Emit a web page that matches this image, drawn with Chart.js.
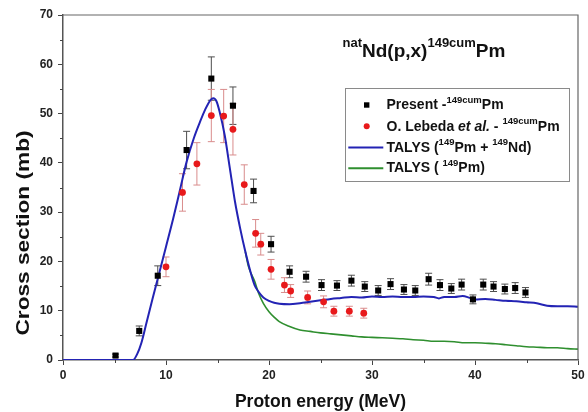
<!DOCTYPE html>
<html><head><meta charset="utf-8">
<script src="https://cdn.jsdelivr.net/npm/chart.js@4.4.1/dist/chart.umd.min.js"></script>
<style>html,body{margin:0;padding:0;background:#fff}#wrap{width:588px;height:412px}</style>
</head><body><div id="wrap"><canvas id="c" width="588" height="412"></canvas></div>
<script>
// ---- data ----
const presentE   = [5.1, 7.4, 9.2, 12.0, 14.4, 16.5, 18.5, 20.2, 22.0, 23.6, 25.1, 26.6, 28.0, 29.3, 30.6, 31.8, 33.1, 34.2, 35.5, 36.6, 37.7, 38.7, 39.8, 40.8, 41.8, 42.9, 43.9, 44.9];
const presentCS  = [0.9, 5.9, 17.1, 42.6, 57.1, 51.6, 34.3, 23.5, 17.9, 16.9, 15.2, 15.1, 16.1, 14.9, 14.1, 15.4, 14.3, 14.1, 16.4, 15.2, 14.5, 15.3, 12.3, 15.3, 14.9, 14.4, 14.6, 13.7];
const presentErr = [0.3, 1.0, 2.0, 3.8, 4.4, 3.8, 2.4, 1.6, 1.2, 1.1, 1.1, 1.0, 1.1, 1.0, 1.0, 1.1, 1.0, 1.0, 1.2, 1.1, 1.0, 1.1, 0.9, 1.1, 1.0, 1.0, 1.1, 1.0];

const lebedaE   = [10.0, 11.6, 13.0, 14.4, 15.6, 16.5, 17.6, 18.7, 19.2, 20.2, 21.5, 22.1, 23.75, 25.3, 26.3, 27.8, 29.2];
const lebedaCS  = [18.9, 34.0, 39.8, 49.6, 49.5, 46.8, 35.6, 25.7, 23.5, 18.4, 15.2, 14.0, 12.7, 11.8, 9.9, 9.9, 9.5];
const lebedaErr = [2.0, 3.8, 4.3, 5.3, 5.4, 5.2, 4.0, 2.8, 2.2, 2.0, 1.5, 1.3, 1.3, 1.2, 1.0, 1.0, 1.0];

const talysTotE  = [0, 6.8, 7.2, 7.6, 8.1, 8.7, 9.25, 10.0, 10.7, 11.3, 12.0, 12.7, 13.3, 13.8, 14.3, 14.6, 14.9, 15.2, 15.7, 16.2, 16.7, 17.2, 17.7, 18.2, 18.6, 19.0, 19.45, 20.0, 20.5, 21.0, 22.0, 23.0, 24.0, 25.0, 26.0, 27.0, 28.0, 29.0, 30.0, 31.0, 32.0, 33.0, 34.0, 35.0, 36.0, 36.5, 37.0, 38.0, 38.8, 39.5, 40.0, 41.0, 42.0, 43.0, 44.0, 45.0, 46.0, 47.0, 48.0, 49.0, 50.0];
const talysTotCS = [0, 0, 1.2, 3.4, 7.5, 12.5, 16.9, 23.0, 28.7, 34.0, 40.2, 45.0, 48.3, 50.8, 52.7, 53.1, 52.5, 50.4, 45.6, 38.9, 32.1, 26.7, 22.0, 17.9, 15.2, 13.8, 12.7, 12.0, 11.6, 11.4, 11.3, 11.5, 11.8, 12.1, 12.4, 12.6, 12.8, 12.7, 12.9, 12.8, 12.9, 12.8, 12.8, 12.9, 12.8, 12.5, 12.8, 12.8, 13.0, 12.6, 12.3, 12.4, 12.2, 12.0, 11.9, 11.7, 11.5, 11.0, 10.9, 10.9, 10.8];

const talysPmE  = [17.7, 18.0, 18.6, 19.0, 19.45, 20.0, 20.5, 21.0, 22.0, 23.0, 24.0, 25.0, 26.0, 27.0, 28.0, 29.0, 30.0, 31.0, 32.0, 33.0, 34.0, 35.0, 36.0, 37.0, 38.0, 39.0, 40.0, 41.0, 42.0, 43.0, 44.0, 45.0, 46.0, 47.0, 48.0, 49.0, 50.0];
const talysPmCS = [22.0, 19.0, 16.0, 13.5, 11.5, 9.8, 8.7, 7.8, 6.8, 6.1, 5.8, 5.5, 5.3, 5.1, 4.9, 4.7, 4.6, 4.5, 4.4, 4.3, 4.1, 4.0, 3.8, 3.8, 3.7, 3.5, 3.5, 3.4, 3.3, 3.1, 2.9, 2.7, 2.6, 2.5, 2.5, 2.3, 2.2];

const xTickStep = 10, yTickStep = 10;
const xMin = 0, xMax = 50, yMin = 0, yMax = 70;

// ---- helpers ----
const FAM = '"Liberation Sans", Arial, Helvetica, sans-serif';
const F = (s, it) => `${it ? 'italic ' : ''}bold ${s}px ${FAM}`;
const toXY = (xs, ys) => xs.map((x, i) => ({x, y: ys[i]}));

function rich(ctx, x, base, segs, targetW) {
  let w = 0;
  for (const s of segs) { ctx.font = F(s.size, s.it); s.w = ctx.measureText(s.t).width; w += s.w; }
  const sx = targetW ? targetW / w : 1;
  ctx.save();
  ctx.translate(x, base); ctx.scale(sx, 1);
  ctx.textAlign = 'left'; ctx.textBaseline = 'alphabetic';
  let cx = 0;
  for (const s of segs) { ctx.font = F(s.size, s.it); ctx.fillText(s.t, cx, -(s.up || 0)); cx += s.w; }
  ctx.restore();
}

const errorBars = {
  id: 'errorBars',
  beforeDatasetsDraw(chart) {
    const {ctx, scales: {x, y}} = chart;
    const sets = [[presentE, presentCS, presentErr, '#4d4d4d'], [lebedaE, lebedaCS, lebedaErr, '#d98c8c']];
    ctx.save();
    ctx.lineWidth = 1;
    for (const [xs, ys, es, col] of sets) {
      ctx.strokeStyle = col;
      xs.forEach((xv, i) => {
        const px = x.getPixelForValue(xv);
        const t = y.getPixelForValue(ys[i] + es[i]);
        const b = y.getPixelForValue(ys[i] - es[i]);
        ctx.beginPath();
        ctx.moveTo(px, t); ctx.lineTo(px, b);
        ctx.moveTo(px - 3.5, t); ctx.lineTo(px + 3.5, t);
        ctx.moveTo(px - 3.5, b); ctx.lineTo(px + 3.5, b);
        ctx.stroke();
      });
    }
    ctx.restore();
  }
};

const decor = {
  id: 'decor',
  afterDraw(chart) {
    const {ctx, chartArea: a, scales: {x, y}} = chart;
    ctx.save();
    // frame top/right
    ctx.strokeStyle = '#666'; ctx.lineWidth = 1.2;
    ctx.beginPath();
    ctx.moveTo(a.left, a.top); ctx.lineTo(a.right, a.top); ctx.lineTo(a.right, a.bottom);
    ctx.stroke();
    // minor ticks
    ctx.strokeStyle = '#444'; ctx.lineWidth = 1;
    ctx.beginPath();
    for (let v = xMin + xTickStep / 2; v < xMax; v += xTickStep) {
      const px = Math.round(x.getPixelForValue(v)) + 0.5;
      ctx.moveTo(px, a.bottom); ctx.lineTo(px, a.bottom + 3);
    }
    for (let v = yMin + yTickStep / 2; v < yMax; v += yTickStep) {
      const py = Math.round(y.getPixelForValue(v)) + 0.5;
      ctx.moveTo(a.left - 3, py); ctx.lineTo(a.left, py);
    }
    ctx.stroke();

    ctx.fillStyle = '#111';
    // axis titles
    ctx.font = F(17.5);
    ctx.textAlign = 'center'; ctx.textBaseline = 'alphabetic';
    ctx.fillText('Proton energy (MeV)', (a.left + a.right) / 2, 407);
    ctx.save();
    ctx.translate(29, 233); ctx.rotate(-Math.PI / 2);
    ctx.font = F(18);
    const w = ctx.measureText('Cross section (mb)').width;
    ctx.scale(205 / w, 1);
    ctx.textAlign = 'center';
    ctx.fillText('Cross section (mb)', 0, 0);
    ctx.restore();

    // plot title
    rich(ctx, 342.5, 57, [
      {t: 'nat', size: 13, up: 10}, {t: 'Nd(p,x)', size: 19},
      {t: '149cum', size: 13, up: 10}, {t: 'Pm', size: 19}
    ]);

    // legend
    ctx.strokeStyle = '#8a8a8a'; ctx.lineWidth = 1;
    ctx.strokeRect(345.5, 88.5, 224, 93);
    const lx = 386.5, mx = 366.7;
    ctx.fillStyle = '#000';
    ctx.fillRect(mx - 2.7, 102.3, 5.4, 5.4);
    ctx.fillStyle = '#e8191b';
    ctx.beginPath(); ctx.arc(mx, 126.3, 3, 0, Math.PI * 2); ctx.fill();
    ctx.lineWidth = 2;
    ctx.strokeStyle = '#2323b4';
    ctx.beginPath(); ctx.moveTo(348.3, 147.5); ctx.lineTo(383.3, 147.5); ctx.stroke();
    ctx.strokeStyle = '#2f8f2f';
    ctx.beginPath(); ctx.moveTo(348.3, 168.3); ctx.lineTo(383.3, 168.3); ctx.stroke();
    ctx.fillStyle = '#111';
    const sup = s => ({t: s, size: 9.5, up: 6.5});
    rich(ctx, lx, 109, [{t: 'Present -', size: 14}, sup('149cum'), {t: 'Pm', size: 14}]);
    rich(ctx, lx, 130.5, [{t: 'O. Lebeda ', size: 14}, {t: 'et al.', size: 14, it: true}, {t: ' - ', size: 14}, sup('149cum'), {t: 'Pm', size: 14}]);
    rich(ctx, lx, 151.7, [{t: 'TALYS (', size: 14}, sup('149'), {t: 'Pm + ', size: 14}, sup('149'), {t: 'Nd)', size: 14}]);
    rich(ctx, lx, 172.3, [{t: 'TALYS ( ', size: 14}, sup('149'), {t: 'Pm)', size: 14}]);
    ctx.restore();
  }
};

const tickFont = {family: FAM, size: 12, weight: 'bold'};

new Chart(document.getElementById('c'), {
  type: 'scatter',
  data: {
    datasets: [
      {label: 'Present', data: toXY(presentE, presentCS), pointStyle: 'rect', pointRadius: 4.3,
       backgroundColor: '#000', borderColor: '#000', borderWidth: 0, showLine: false, order: 0},
      {label: 'Lebeda', data: toXY(lebedaE, lebedaCS), pointStyle: 'circle', pointRadius: 3.4,
       backgroundColor: '#e8191b', borderColor: '#e8191b', borderWidth: 0, showLine: false, order: 0},
      {label: 'TALYS total', data: toXY(talysTotE, talysTotCS), showLine: true, pointRadius: 0,
       borderColor: '#2323b4', borderWidth: 2, cubicInterpolationMode: 'monotone', order: 1},
      {label: 'TALYS Pm', data: toXY(talysPmE, talysPmCS), showLine: true, pointRadius: 0,
       borderColor: '#2f8f2f', borderWidth: 1.6, cubicInterpolationMode: 'monotone', order: 2}
    ]
  },
  options: {
    responsive: false, animation: false, devicePixelRatio: 1,
    layout: {padding: {top: 15, right: 10, left: 0, bottom: 0}},
    plugins: {legend: {display: false}, tooltip: {enabled: false}},
    scales: {
      x: {type: 'linear', min: xMin, max: xMax,
          ticks: {stepSize: xTickStep, font: tickFont, color: '#222', padding: 3, maxRotation: 0},
          grid: {drawOnChartArea: false, drawTicks: true, tickLength: 5, color: '#444'},
          border: {color: '#555', width: 1.5},
          afterFit: s => { s.height = 52; }},
      y: {type: 'linear', min: yMin, max: yMax,
          ticks: {stepSize: yTickStep, font: tickFont, color: '#222', padding: 5},
          grid: {drawOnChartArea: false, drawTicks: true, tickLength: 5, color: '#444'},
          border: {color: '#555', width: 1.5},
          afterFit: s => { s.width = 63; }}
    }
  },
  plugins: [errorBars, decor]
});
</script></body></html>
